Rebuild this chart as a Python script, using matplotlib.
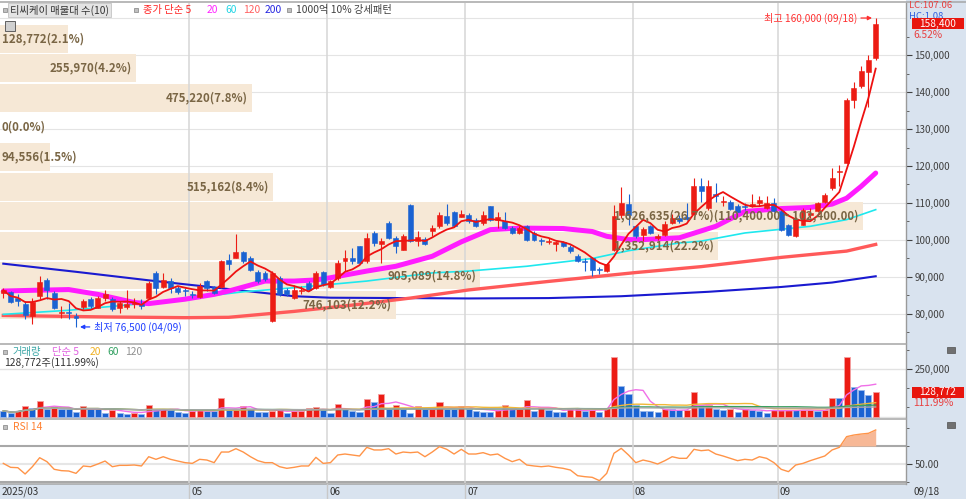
import numpy as np
import pandas as pd
import matplotlib
matplotlib.use('Agg')
import matplotlib.pyplot as plt
import matplotlib.transforms as mtransforms
from matplotlib.patches import Rectangle
from matplotlib.lines import Line2D

plt.rcParams['font.family'] = ['Noto Sans CJK KR', 'DejaVu Sans']

# ---------------- data ----------------
holidays = ['2025-05-01', '2025-05-05', '2025-05-06', '2025-06-03', '2025-06-06', '2025-08-15']
dates = pd.bdate_range('2025-03-26', '2025-09-18')
dates = dates[~dates.isin(pd.to_datetime(holidays))]

open_ = [85700, 86000, 84200, 82800, 79500, 84800, 89200, 85700, 80200, 80400,
         79500, 81900, 84100, 81700, 84400, 84000, 81700, 81900, 82800, 82800,
         84400, 91100, 87300, 88900, 86900, 86400, 85300, 84600, 88900, 87300,
         87300, 94500, 95200, 96800, 95200, 91400, 91000, 78000, 89800, 86400,
         84400, 86200, 88400, 87000, 91400, 87300, 89800, 94300, 95200, 98300,
         94300, 101900, 98900, 104600, 100600, 97400, 109500, 99700, 100400, 102300,
         103700, 106400, 107700, 106100, 106800, 105500, 104600, 109100, 105500, 105200,
         103200, 101900, 103700, 101900, 99800, 99500, 99000, 99500, 98000, 95600,
         94300, 95000, 92200, 91600, 97400, 106800, 109700, 103700, 101300, 103700,
         100600, 101300, 104600, 105900, 106100, 107000, 114600, 108600, 112500, 110200,
         110400, 109300, 109200, 109300, 109900, 108600, 110000, 107900, 104000, 101000,
         104000, 106800, 107900, 110200, 114000, 118400, 120900, 137800, 141600, 145500,
         149100]
high = [87100, 86200, 85300, 83500, 84400, 90200, 89600, 86200, 82200, 83000,
        80400, 84000, 84600, 84900, 86400, 84600, 83500, 86400, 84400, 84000,
        88900, 91600, 91100, 89600, 87500, 87100, 86200, 88400, 89300, 87500,
        94500, 96100, 101500, 97000, 95600, 92000, 91500, 91500, 90200, 86900,
        87800, 87500, 88900, 91600, 91600, 89300, 94500, 97400, 97900, 98500,
        101900, 102500, 100600, 105000, 101000, 101500, 109700, 102500, 100700, 104000,
        107700, 109700, 107900, 108200, 107300, 105900, 107900, 109300, 107700, 107700,
        103700, 103700, 104100, 102300, 100600, 100600, 99700, 99700, 98600, 96100,
        95200, 95300, 92700, 93800, 109500, 114200, 112400, 104100, 103400, 104100,
        101500, 105000, 107000, 106800, 110000, 116700, 116700, 116300, 115400, 111800,
        110900, 109700, 110000, 112400, 111800, 111800, 111300, 108200, 104300, 106100,
        108600, 108600, 110400, 112700, 119400, 120300, 138300, 142800, 146900, 150000,
        160000]
low = [84400, 83000, 82200, 78600, 77200, 84000, 84000, 81300, 79000, 78600,
       76500, 81300, 81700, 81500, 83500, 80800, 80400, 81300, 81700, 81300,
       84000, 85300, 87100, 85700, 85300, 84800, 84400, 84400, 86200, 85300,
       87100, 92000, 95200, 93800, 91600, 88400, 89000, 77700, 84800, 84900,
       84000, 85300, 86200, 86700, 87500, 87100, 89300, 91600, 93400, 93400,
       93800, 98300, 93800, 100400, 96500, 97400, 99500, 98300, 98600, 101000,
       103200, 104100, 103400, 106100, 104600, 103400, 104100, 105200, 103200, 103100,
       101500, 101500, 99800, 99700, 98600, 98800, 97100, 98000, 96500, 94100,
       91600, 90200, 90700, 91400, 97000, 105900, 104100, 100600, 99700, 101500,
       100100, 101000, 104300, 104600, 105500, 106800, 110400, 108200, 110400, 109100,
       108200, 107500, 108200, 108800, 109100, 108400, 107700, 102300, 101000, 100700,
       104000, 105900, 107700, 110000, 113500, 114500, 120700, 135600, 141000, 136000,
       148600]
close = [86400, 83300, 83500, 79700, 83200, 88700, 86400, 81500, 80500, 80300,
         79000, 83500, 82200, 84400, 85500, 81300, 83100, 82600, 83100, 82200,
         88400, 87100, 89100, 87100, 86000, 86200, 85100, 87500, 87100, 85700,
         94300, 93600, 96700, 94300, 92000, 88900, 89500, 91000, 85300, 85300,
         86600, 86600, 86600, 91100, 88000, 88900, 93800, 95200, 94300, 93800,
         100600, 99200, 99700, 100600, 98300, 101000, 99700, 100700, 98800, 103200,
         106800, 104600, 103700, 107100, 105200, 103700, 106800, 105500, 106100, 103200,
         101900, 103200, 100100, 100100, 99600, 99800, 99400, 98300, 97000, 94300,
         94100, 92000, 91800, 93400, 106400, 110000, 106800, 101000, 103100, 101900,
         101000, 104300, 105900, 105200, 105700, 114500, 113300, 114500, 112000, 110500,
         108500, 107700, 109000, 109600, 110900, 110000, 107900, 102800, 101300, 105800,
         108200, 107300, 110000, 112200, 116700, 118700, 137800, 141000, 145700, 148700,
         158400]
volume = [32000, 21000, 32000, 56000, 49000, 85000, 40000, 53000, 40000, 40000,
          26000, 56000, 44000, 44000, 21000, 39000, 23000, 18000, 21000, 18000,
          62000, 39000, 40000, 39000, 26000, 23000, 32000, 44000, 32000, 32000,
          97000, 35000, 37000, 56000, 44000, 26000, 26000, 32000, 44000, 23000,
          32000, 34000, 48000, 53000, 35000, 21000, 70000, 40000, 32000, 28000,
          92000, 79000, 118000, 40000, 65000, 40000, 21000, 56000, 40000, 42000,
          79000, 44000, 43000, 56000, 44000, 30000, 28000, 26000, 35000, 65000,
          40000, 42000, 88000, 32000, 53000, 39000, 26000, 25000, 44000, 46000,
          32000, 35000, 26000, 49000, 317000, 164000, 123000, 62000, 32000, 32000,
          26000, 44000, 40000, 35000, 39000, 132000, 62000, 64000, 44000, 35000,
          44000, 26000, 44000, 35000, 34000, 23000, 35000, 37000, 39000, 35000,
          36000, 37000, 30000, 35000, 102000, 97000, 317000, 158000, 141000, 114983,
          128772]
rsi14 = [50.7, 46.3, 45.9, 38.9, 47.0, 57.0, 52.6, 44.1, 42.6, 42.2,
         39.6, 47.8, 47.0, 50.0, 53.3, 47.0, 48.5, 48.5, 48.9, 47.8,
         58.1, 55.2, 58.1, 55.2, 53.3, 51.5, 50.7, 55.2, 54.4, 51.5,
         63.3, 63.3, 67.0, 63.3, 58.1, 53.7, 51.5, 51.5, 47.0, 45.2,
         46.3, 47.8, 47.8, 57.4, 50.7, 51.5, 60.0, 61.1, 60.0, 58.9,
         68.5, 65.6, 65.6, 67.0, 61.1, 63.3, 62.6, 63.3, 58.1, 63.3,
         69.3, 66.3, 61.1, 66.3, 61.1, 61.1, 62.6, 60.0, 61.1, 56.3,
         52.6, 55.2, 48.9, 47.8, 47.0, 47.8, 46.3, 45.2, 43.3, 37.0,
         35.9, 35.2, 31.5, 39.6, 61.9, 67.4, 60.0, 51.5, 54.4, 52.6,
         50.0, 53.7, 58.1, 56.3, 56.3, 66.3, 64.8, 65.6, 61.1, 58.9,
         56.3, 53.7, 55.2, 54.4, 58.1, 56.3, 51.5, 44.1, 41.5, 48.9,
         50.7, 53.7, 56.3, 58.9, 65.6, 68.5, 80.4, 82.2, 83.3, 84.1,
         87.8]

# moving averages (longer windows need history before the view)
ma20_idx = [0, 4, 9, 13, 18, 20, 25, 29, 31, 36, 40, 43, 45, 50, 54, 59, 63, 67, 70,
            72, 77, 81, 83, 86, 88, 90, 93, 98, 102, 107, 111, 114, 116, 118, 120]
ma20_val = [86200, 86400, 86600, 85300, 83100, 82800, 84000, 85300, 86200, 88900,
            88900, 89200, 89800, 91600, 92900, 95600, 99500, 102800, 103100, 103200,
            103100, 102300, 101000, 100100, 100100, 100300, 100600, 103700, 107700,
            108500, 108800, 109700, 111300, 114500, 118100]
ma60_idx = [0, 9, 18, 27, 33, 40, 50, 59, 64, 72, 81, 86, 93, 96, 102, 111, 116, 120]
ma60_val = [79900, 81000, 82600, 84600, 86000, 87100, 88900, 91100, 91600, 92900,
            95000, 97100, 99200, 99700, 101900, 103700, 105500, 108200]
ma120_idx = [0, 14, 25, 31, 40, 48, 56, 64, 75, 87, 96, 107, 116, 120]
ma120_val = [79600, 79200, 79000, 79100, 80700, 82400, 84300, 86500, 88800, 91200,
             92800, 95300, 97000, 98800]
ma200_idx = [0, 10, 20, 27, 33, 40, 45, 55, 64, 75, 85, 97, 107, 114, 120]
ma200_val = [93600, 91400, 89100, 87600, 86300, 84800, 84400, 84300, 84200, 84300,
             84800, 86000, 87300, 88500, 90200]

# volume profile (매물대, 10 bands)
vol_profile = [746103, 905089, 1352914, 1626635, 515162, 94556, 0, 475220, 255970, 128772]
profile_low = 78400
profile_step = 8000

price_ticks = [80000, 90000, 100000, 110000, 120000, 130000, 140000, 150000]
lc_text = "LC:107.06"
hc_text = "HC:1.08"

# ---------------- layout ----------------
W, H = 966, 499
AX_R = 906
fig = plt.figure(figsize=(W / 100, H / 100), dpi=100)
fig.patch.set_facecolor('white')


def fbox(x0, y0, x1, y1):
    return [x0 / W, 1 - y1 / H, (x1 - x0) / W, (y1 - y0) / H]


def fx(px):
    return px / W


def fy(py):
    return 1 - py / H


RED = '#ec1c14'
BLUE = '#1a62d2'
AXBG = '#d9e3ef'

fig.add_artist(Rectangle((fx(AX_R), 0), 1 - fx(AX_R), 1, transform=fig.transFigure,
                         facecolor=AXBG, edgecolor='none', zorder=-5))
fig.add_artist(Rectangle((0, 0), fx(AX_R), 15 / H, transform=fig.transFigure,
                         facecolor=AXBG, edgecolor='none', zorder=-5))

ax = fig.add_axes(fbox(0, 3, AX_R, 343))
axv = fig.add_axes(fbox(0, 344, AX_R, 418))
axr = fig.add_axes(fbox(0, 419, AX_R, 484))

o = np.array(open_, float)
h = np.array(high, float)
l = np.array(low, float)
c = np.array(close, float)
v = np.array(volume, float)
r = np.array(rsi14, float)
n = len(c)
x = np.arange(n)

SPACING = 7.27
X0 = 3.3
xlim = (-X0 / SPACING, (AX_R - X0) / SPACING)
for a in (ax, axv, axr):
    a.set_xlim(*xlim)
    a.set_facecolor('white')
    for s in a.spines.values():
        s.set_visible(False)
    a.spines['right'].set_visible(True)
    a.spines['right'].set_color('#9a9a9a')
    a.spines['right'].set_linewidth(1.0)
    a.tick_params(axis='x', bottom=False, labelbottom=False)
    a.yaxis.tick_right()
    a.tick_params(axis='y', which='major', labelsize=7, colors='#404040', length=4,
                  width=0.8, pad=2, direction='out')
    a.tick_params(axis='y', which='minor', length=2, width=0.7, colors='#606060')

# price axis scale: 120,000 at y=166px, 270.3 won per px
ax.set_ylim(120000 - (343 - 166) * 270.3, 120000 + (166 - 3) * 270.3)
ax.set_yticks(price_ticks)
ax.set_yticklabels([f"{t:,}" for t in price_ticks])
ax.set_yticks([t + 5000 for t in price_ticks] + [75000], minor=True)

for t in range(80000, 170000, 10000):
    ax.axhline(t, color='#e4e4e4', lw=0.8, zorder=0.5)

# month gridlines (the first partial month boundary near the left edge is not marked)
month_starts = [i for i in range(1, n) if dates[i].month != dates[i - 1].month
                and X0 + SPACING * i > 60]
grid_x = [i - 0.45 for i in month_starts]
for a in (ax, axv, axr):
    for gx in grid_x:
        a.axvline(gx, color='#d6d6d6', lw=1.1, zorder=2)

# volume profile bands
vp = np.array(vol_profile, float)
vp_tot = vp.sum()
vp_max = vp.max()
blend = mtransforms.blended_transform_factory(ax.transAxes, ax.transData)
band_lo = profile_low + profile_step * np.arange(len(vp))
gap = 450
prof_texts = []
for i in range(len(vp)):
    wfrac = vp[i] / vp_max * (863 / AX_R)
    if wfrac > 0:
        ax.add_patch(Rectangle((0, band_lo[i] + gap / 2), wfrac, profile_step - gap,
                               transform=blend, facecolor='#f6e8d6', edgecolor='none', zorder=1))
    label = f"{int(vp[i]):,}({vp[i] / vp_tot * 100:.1f}%)"
    if vp[i] == vp_max:
        label += f"({band_lo[i] + profile_step:,.2f} ~ {band_lo[i]:,.2f})"
    end_px = vp[i] / vp_max * 863
    t = ax.text((end_px - 4) / AX_R, band_lo[i] + profile_step / 2, label, transform=blend,
                ha='right', va='center', fontsize=8.3, fontweight='bold', color='#7a6645', zorder=8)
    prof_texts.append(t)

# moving averages
ax.plot(ma200_idx, ma200_val, color='#1a1ad0', lw=1.5, zorder=3)
ax.plot(ma120_idx, ma120_val, color='#ff5a5a', lw=2.4, zorder=3)
ax.plot(ma60_idx, ma60_val, color='#1ee8ee', lw=1.2, zorder=3)
ax.plot(ma20_idx, ma20_val, color='#ff1cff', lw=3.6, zorder=3, solid_capstyle='round')

# candles
cols = np.where(c >= o, RED, BLUE)
ax.vlines(x, l, h, colors=cols, lw=0.8, zorder=4)
body_bot = np.minimum(o, c)
body_h = np.maximum(np.abs(c - o), 300)
ax.bar(x, body_h, bottom=body_bot, width=0.68, color=cols, edgecolor=cols, linewidth=0.4, zorder=5)

ma5 = pd.Series(c).rolling(5, min_periods=1).mean()
ax.plot(x, ma5, color='#ee1111', lw=1.3, zorder=6)

# high / low annotations
imax = int(np.argmax(h))
imin = int(np.argmin(l))
ax.annotate(f"최고 {h[imax]:,.0f} ({dates[imax]:%m/%d})", xy=(imax - 0.5, h[imax]),
            xytext=(-11, 0), textcoords='offset points', ha='right', va='center',
            fontsize=7.3, color='#ff3030', zorder=9,
            arrowprops=dict(arrowstyle='-|>', color='#ff3030', lw=0.9, mutation_scale=6,
                            shrinkA=1, shrinkB=0))
ax.annotate(f"최저 {l[imin]:,.0f} ({dates[imin]:%m/%d})", xy=(imin + 0.55, l[imin]),
            xytext=(10, 0), textcoords='offset points', ha='left', va='center',
            fontsize=7.3, color='#2040ff', zorder=9,
            arrowprops=dict(arrowstyle='-|>', color='#2040ff', lw=0.9, mutation_scale=6,
                            shrinkA=1, shrinkB=0))

# ---------------- volume panel ----------------
axv.set_ylim(-5241, (417 - 344) * 5241)
vcols = [BLUE] + [RED if v[i] > v[i - 1] else BLUE for i in range(1, n)]
vedge = ['#f4a0a0' if cc == RED else '#9ab8ec' for cc in vcols]
axv.axhline(250000, color='#e2e2e2', lw=1.0, zorder=0.5)
axv.axhline(0, color='#e2e2e2', lw=1.0, zorder=0.5)
axv.bar(x, v, width=0.84, color=vcols, edgecolor=vedge, linewidth=0.6, zorder=3)
vma_cols = {5: '#f070e8', 20: '#f0b838', 60: '#3aa060', 120: '#a8a8a8'}
for p, cc in vma_cols.items():
    axv.plot(x, pd.Series(v).rolling(p, min_periods=1).mean(), color=cc, lw=1.0, zorder=4)
axv.set_yticks([250000])
axv.set_yticklabels(['250,000'])
axv.set_yticks([50000, 150000, 350000], minor=True)

# ---------------- RSI panel ----------------
axr.set_ylim(50 - (484 - 464) / 0.9, 50 + (464 - 419) / 0.9)
axr.axhline(70, color='#a8a8a8', lw=1.5, zorder=1)
axr.axhline(30, color='#a8a8a8', lw=1.5, zorder=1)
axr.axhline(50, color='#e6e6e6', lw=1.5, zorder=1)
axr.fill_between(x, r, 70, where=r >= 70, interpolate=True, color='#f7b896', lw=0, zorder=2)
axr.plot(x, r, color='#ff9448', lw=1.0, zorder=3)
axr.set_yticks([50])
axr.set_yticklabels(['50.00'])
axr.set_yticks([30, 70, 90], minor=True)

# ---------------- separators & frame ----------------
for yy in (1.5, 343.5, 418.5, 484):
    fig.add_artist(Line2D([0, fx(AX_R if yy > 2 else W)], [fy(yy), fy(yy)], transform=fig.transFigure,
                          color='#a6a6a6', lw=1.1))
for gx in grid_x:
    px = X0 + SPACING * gx
    fig.add_artist(Line2D([fx(px), fx(px)], [fy(484), fy(499)], transform=fig.transFigure,
                          color='#c8c8c8', lw=1.0))

# ---------------- x-axis labels ----------------
fig.text(fx(2), fy(492), f"{dates[0]:%Y/%m}", fontsize=7.2, color='#333333', va='center')
for i, gx in zip(month_starts, grid_x):
    px = X0 + SPACING * gx
    fig.text(fx(px + 2), fy(492), f"{dates[i]:%m}", fontsize=7.2, color='#333333', va='center')
fig.text(fx(913), fy(492), f"{dates[-1]:%m/%d}", fontsize=7.2, color='#333333', va='center')


# ---------------- headers ----------------
def square(px, py, size=4):
    fig.add_artist(Rectangle((fx(px), fy(py + size / 2)), size / W, size / H, transform=fig.transFigure,
                             facecolor='#c0c0c0', edgecolor='#808080', lw=0.5, zorder=10))


def ftext(px, py, s, **kw):
    kw.setdefault('fontsize', 7.4)
    return fig.text(fx(px), fy(py), s, va='center', ha='left', zorder=10, **kw)


square(3, 10)
ftext(10, 10, "티씨케이 매물대 수(10)", color='#333333',
      bbox=dict(boxstyle='square,pad=0.15', facecolor='#e4e4e4', edgecolor='#c4c4c4', lw=0.6))
square(134, 10)
ftext(143, 10, "종가 단순 5", color='#ff2424')
ftext(207, 10, "20", color='#ff24ff')
ftext(225, 10, "60", color='#20d4e4')
ftext(243, 10, "120", color='#ff6060')
ftext(265, 10, "200", color='#2424e0')
square(287, 10)
ftext(296, 10, "1000억 10% 강세패턴", color='#404040')
# small grid icon
fig.add_artist(Rectangle((fx(5), fy(31)), 10 / W, 10 / H, transform=fig.transFigure,
                         facecolor='#d0d0d0', edgecolor='#606060', lw=0.7, zorder=10))

square(3, 352)
ftext(13, 352, "거래량", color='#3aa6a6')
ftext(52, 352, "단순 5", color='#e060e0')
ftext(90, 352, "20", color='#f0b020')
ftext(107, 352, "60", color='#30a060')
ftext(125, 352, "120", color='#909090')
ftext(4, 363, f"{int(v[-1]):,}주({v[-1] / v[-2] * 100:.2f}%)", color='#333333')

square(3, 427)
ftext(13, 427, "RSI 14", color='#ff8030')

# ---------------- right-side tags ----------------
ftext(909, 5.5, lc_text, color='#e84040', fontsize=6.8)
ftext(909, 16.5, hc_text, color='#3060e0', fontsize=6.8)


def tag(axis, val, text, sub):
    ydisp = axis.transData.transform((0, val))[1]
    ypx = H - ydisp
    fig.add_artist(Rectangle((fx(912), fy(ypx + 5.5)), 52 / W, 11 / H, transform=fig.transFigure,
                             facecolor='#e8160e', edgecolor='none', zorder=11))
    fig.text(fx(938), fy(ypx), text, color='white', fontsize=7.3, ha='center', va='center', zorder=12)
    fig.text(fx(913), fy(ypx + 11), sub, color='#e84040', fontsize=7.3, ha='left', va='center', zorder=12)


tag(ax, c[-1], f"{c[-1]:,.0f}", f"{(c[-1] / c[-2] - 1) * 100:.2f}%")
tag(axv, v[-1], f"{v[-1]:,.0f}", f"{v[-1] / v[-2] * 100:.2f}%")

for py in (350, 425):
    fig.add_artist(Rectangle((fx(947), fy(py + 3)), 8 / W, 6 / H, transform=fig.transFigure,
                             facecolor='#707070', edgecolor='#505050', lw=0.5, zorder=10))

# place volume-profile labels: left-align those that would run past the left edge
fig.canvas.draw()
for t in prof_texts:
    bb = t.get_window_extent()
    ax_left = ax.get_window_extent().x0
    if bb.x0 - ax_left < 2:
        t.set_x(2 / AX_R)
        t.set_ha('left')

fig.savefig('out.png', dpi=100)
